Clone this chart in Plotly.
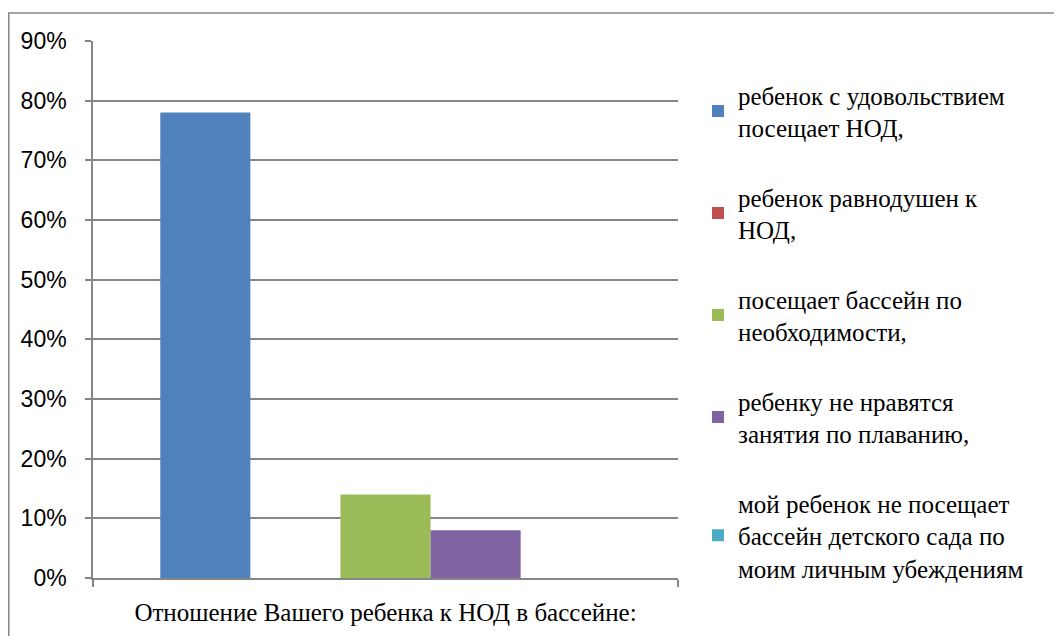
import plotly.graph_objects as go

category = ["Отношение Вашего ребенка к НОД в бассейне:"]
series_names = [
    "ребенок с удовольствием<br>посещает НОД,",
    "ребенок равнодушен к<br>НОД,",
    "посещает бассейн по<br>необходимости,",
    "ребенку не нравятся<br>занятия по плаванию,",
    "мой ребенок не посещает<br>бассейн детского сада по<br>моим личным убеждениям",
]
series_values = [0.78, 0.0, 0.14, 0.08, 0.0]
colors = ["#4F81BD", "#C0504D", "#9BBB59", "#8064A2", "#4BACC6"]
y_ticks = [0, 0.1, 0.2, 0.3, 0.4, 0.5, 0.6, 0.7, 0.8, 0.9]

SERIF = "Liberation Serif"
SANS = "Liberation Sans"

fig = go.Figure()
for i, (name, val, col) in enumerate(zip(series_names, series_values, colors)):
    fig.add_trace(go.Bar(
        x=category, y=[val], name=name, marker_color=col,
        marker_line_width=0, legendgroup=f"g{i}",
    ))

# page has an 8px body margin; compensate so the plot area lands at 93..678 x 41..578
OFF = 8
W, H = 1062, 636
L = 93 - OFF
T = 41 - OFF
R = W + OFF - 678
B = H + OFF - 578
pw = W - L - R
ph = H - T - B

fig.update_layout(
    width=W, height=H,
    margin=dict(l=L, r=R, t=T, b=B, pad=0),
    paper_bgcolor="white", plot_bgcolor="white",
    barmode="group", bargap=0.23, bargroupgap=0,
    showlegend=True,
    legend=dict(
        x=(698 - OFF - L) / pw, xanchor="left",
        y=(578 - 72) / ph, yanchor="top",
        font=dict(family=SERIF, size=25, color="black"),
        tracegroupgap=34, itemwidth=30,
        bgcolor="rgba(0,0,0,0)",
    ),
    xaxis=dict(
        showline=True, linecolor="#868686", linewidth=1.5,
        ticks="outside", tickson="boundaries", ticklen=7, tickcolor="#868686",
        tickwidth=1.5, ticklabelstandoff=11,
        tickfont=dict(family=SERIF, size=25, color="black"),
        showgrid=False,
    ),
    yaxis=dict(
        range=[0, 0.9], tickvals=y_ticks, tickformat=".0%",
        showline=True, linecolor="#868686", linewidth=1.5,
        ticks="outside", ticklen=6, tickcolor="#868686", tickwidth=1.5,
        ticklabelstandoff=14,
        showgrid=True, gridcolor="#868686", gridwidth=1.5,
        tickfont=dict(family=SANS, size=23, color="black"),
        zeroline=False,
    ),
    shapes=[dict(
        type="rect", xref="paper", yref="paper",
        x0=(0.75 - L) / pw, x1=(W + 10 - L) / pw,
        y0=-(B + 20) / ph, y1=(578 - 13) / ph,
        line=dict(color="#868686", width=1.5), fillcolor="rgba(0,0,0,0)",
        layer="below",
    )],
)

fig.write_html("out.html")
